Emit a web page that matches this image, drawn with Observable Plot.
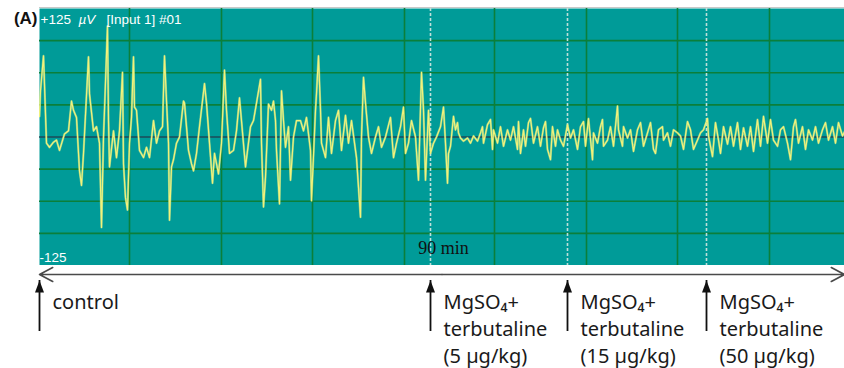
<!DOCTYPE html>
<html><head><meta charset="utf-8">
<script src="https://cdn.jsdelivr.net/npm/d3@7"></script>
<script src="https://cdn.jsdelivr.net/npm/@observablehq/plot@0.6"></script>
<style>body{margin:0;background:#fff;} #chart svg{display:block;}</style>
</head><body><div id="chart"></div>
<script>
// time (arbitrary units, panel spans 0..805) and amplitude (µV)
const t = [
  0,1,4,7,10,14,17,20,25,29,
  32,34,37,40,42,44,49,50,54,57,
  60,62,64,65,68,69,70,74,77,80,
  83,84,86,88,90,92,94,95,97,100,
  104,107,110,114,117,120,123,125,127,129,
  130,132,134,137,140,144,145,149,152,154,
  157,160,165,167,170,173,175,179,182,185,
  187,190,194,197,200,206,211,214,217,221,
  222,224,226,229,232,234,236,237,240,242,
  244,246,249,251,254,257,261,264,267,271,
  272,276,277,279,281,282,286,289,292,296,
  299,302,306,309,312,316,317,321,322,324,
  326,329,332,336,339,342,346,351,354,357,
  361,364,366,369,372,376,379,382,384,386,
  389,391,394,397,401,404,406,408,409,411,
  414,416,418,419,421,424,428,431,434,438,
  441,443,444,448,451,453,454,458,461,464,
  468,471,474,478,479,481,484,486,489,491,
  494,498,501,504,506,508,511,513,516,518,
  521,524,528,531,534,538,541,544,546,549,
  553,554,558,561,563,564,568,571,574,578,
  579,583,584,588,591,594,598,601,604,608,
  611,614,616,619,623,624,628,631,634,638,
  641,644,648,651,654,658,661,664,668,669,
  673,676,679,681,684,688,691,694,698,701,
  704,708,711,714,718,721,724,728,731,734,
  738,741,744,748,751,754,756,759,763,766,
  769,773,776,779,783,786,789,793,796,799,
  803,805
];
const uV = [
  20,45,79,-6,-10,-5,-3,-13,3,6,
  35,26,19,-33,-47,-16,78,42,6,10,
  -6,-88,0,26,108,16,-29,6,-20,6,
  63,-26,-59,-71,-6,19,78,29,26,-13,
  -20,-10,-20,16,-6,6,10,79,35,-6,
  -81,-29,-22,-6,0,35,33,-13,-26,-33,
  -16,10,52,33,-6,-45,-16,-36,-6,65,
  26,-16,-13,6,38,-29,10,16,33,56,
  -6,-68,-39,32,26,35,16,-13,-65,45,
  16,-10,10,-42,0,16,16,6,19,-13,
  -62,26,42,79,26,-6,-20,19,-16,16,
  26,-13,21,-6,16,-13,-20,-78,0,58,
  33,0,-16,0,10,-10,0,19,-20,-6,
  10,29,-16,-6,16,0,-42,63,26,-42,
  26,-16,-6,0,10,29,-6,-45,-16,-9,
  20,7,14,4,-1,-4,-1,-6,1,-4,
  4,10,-6,12,17,-12,7,-6,10,-9,
  7,-3,10,-12,15,-16,7,-9,14,18,
  -6,10,-9,9,15,-12,-22,10,-9,7,
  -3,-9,12,-1,7,-12,10,15,-9,18,
  -22,4,-6,10,17,-9,-3,10,-9,30,
  7,-9,10,-1,7,-14,7,14,-9,4,
  14,-12,-16,7,10,-3,4,-9,7,4,
  1,-12,15,7,-12,-3,4,7,18,1,
  -19,14,-3,-16,10,-7,10,-9,14,-12,
  9,-9,10,-14,17,-9,20,-6,17,-3,
  -9,7,10,-6,-22,10,17,-6,10,-12,
  7,-3,10,-6,7,14,-3,10,-6,14,
  1,5
];
const tMax = 805;
const yRange = [-125, 125];
const hGrid = [-93.75, -62.5, -31.25, 31.25, 62.5, 93.75];
const vGrid = [90, 182, 273, 365, 455, 547, 638, 730];
const doseTimes = [391, 528, 667];
const eventTimes = [0, 391, 528, 667];
const eventLabels = ["control", "MgSO₄+\nterbutaline\n(5 µg/kg)", "MgSO₄+\nterbutaline\n(15 µg/kg)", "MgSO₄+\nterbutaline\n(50 µg/kg)"];
const timeLabels = [{t: 404, text: "90 min"}];

const trace = t.map((d, i) => ({t: d, v: uV[i]}));
const events = eventTimes.map((d, i) => ({t: d, label: eventLabels[i]}));

const main = Plot.plot({
  width: 844, height: 265, marginTop: 8, marginBottom: 0, marginLeft: 39, marginRight: 0,
  x: {domain: [0, tMax], axis: null},
  y: {domain: yRange, axis: null},
  marks: [
    Plot.frame({fill: "#009b98", stroke: null}),
    Plot.ruleY(hGrid, {stroke: "#0b7f3a", strokeWidth: 1.6}),
    Plot.ruleX(vGrid, {stroke: "#0b7f3a", strokeWidth: 1.6}),
    Plot.ruleX(doseTimes, {stroke: "#bfe0da", strokeWidth: 1.6, strokeDasharray: "3,2"}),
    Plot.ruleY([0], {stroke: "#1c4a58", strokeWidth: 1.6}),
    Plot.line(trace, {x: "t", y: "v", stroke: "#c8e890", strokeWidth: 2.2, strokeOpacity: 0.55, clip: true}),
    Plot.line(trace, {x: "t", y: "v", stroke: "#f2f27a", strokeWidth: 1.2, clip: true}),
    Plot.ruleY([yRange[1]], {stroke: "#c8c8c8", dy: -1}),
    Plot.text(["(A)"], {text: d => d, frameAnchor: "top-left", textAnchor: "end", lineAnchor: "middle", dx: -2, dy: 10, fontSize: 17, fontWeight: "bold", fontFamily: "Liberation Sans, Arial, sans-serif", fill: "#111"}),
    Plot.text(["+125"], {text: d => d, frameAnchor: "top-left", textAnchor: "start", lineAnchor: "middle", dx: 1, dy: 11, fontSize: 13.5, fontFamily: "Liberation Sans, Arial, sans-serif", fill: "white"}),
    Plot.text(["µV"], {text: d => d, frameAnchor: "top-left", textAnchor: "start", lineAnchor: "middle", dx: 39, dy: 11, fontSize: 13.5, fontStyle: "italic", fontFamily: "Liberation Sans, Arial, sans-serif", fill: "white"}),
    Plot.text(["[Input 1] #01"], {text: d => d, frameAnchor: "top-left", textAnchor: "start", lineAnchor: "middle", dx: 67, dy: 11, fontSize: 13.5, fontFamily: "Liberation Sans, Arial, sans-serif", fill: "white"}),
    Plot.text(["-125"], {text: d => d, frameAnchor: "bottom-left", textAnchor: "start", lineAnchor: "middle", dx: 0, dy: -8, fontSize: 13.5, fontFamily: "Liberation Sans, Arial, sans-serif", fill: "white"}),
    Plot.text(timeLabels, {x: "t", text: "text", frameAnchor: "bottom", lineAnchor: "middle", dy: -17, fontSize: 18, fontFamily: "Liberation Serif, Times New Roman, serif", fill: "#111"})
  ]
});

const narrowTriangle = {
  draw(ctx, size) {
    const k = Math.sqrt(size) / 7.09;
    ctx.moveTo(0, 0);
    ctx.lineTo(-4.5 * k, 12 * k);
    ctx.lineTo(4.5 * k, 12 * k);
    ctx.closePath();
  }
};

const strip = Plot.plot({
  width: 844, height: 103, marginTop: 15, marginBottom: 37, marginLeft: 39, marginRight: 0,
  x: {domain: [0, tMax], axis: null},
  y: {domain: [0, 1], axis: null},
  marks: [
    Plot.arrow([0], {x1: tMax / 2, x2: 0, y1: 1, y2: 1, dy: -6, stroke: "#4a4a4a", strokeWidth: 1.6, headLength: 14, headAngle: 56}),
    Plot.arrow([0], {x1: tMax / 2, x2: tMax, y1: 1, y2: 1, dy: -6, stroke: "#4a4a4a", strokeWidth: 1.6, headLength: 14, headAngle: 56}),
    Plot.ruleX(events, {x: "t", y1: 0, y2: 1, stroke: "#111", strokeWidth: 1.8}),
    Plot.dot(events, {x: "t", y: 1, symbol: narrowTriangle, r: 4, fill: "#111", stroke: null}),
    Plot.text(events, {x: "t", y: 1, text: "label", dx: 13, dy: 9, textAnchor: "start", lineAnchor: "top", fontSize: 20, lineHeight: 1.35, fontFamily: "Noto Sans, Open Sans, sans-serif", fill: "#1a1a1a"})
  ]
});

document.getElementById("chart").append(main, strip);
</script>
</body></html>
